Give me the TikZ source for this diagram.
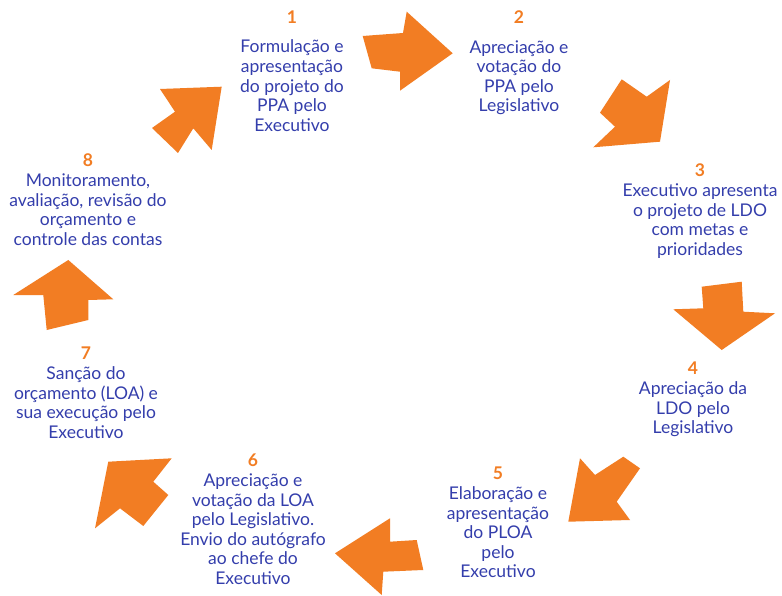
\documentclass[tikz,border=0pt]{standalone}
\usepackage{fontspec}
\setmainfont{Lato}
\definecolor{arroworange}{RGB}{242,125,35}
\definecolor{textblue}{RGB}{52,62,172}
\begin{document}
\begin{tikzpicture}[x=1pt,y=-1pt,
  itemtext/.style={anchor=north, inner sep=0pt, align=center, text=textblue,
    font=\fontsize{17.5}{19.6}\selectfont},
  blockarrow/.style={fill=arroworange, draw=none}]
\useasboundingbox (0,0) rectangle (782,596);
\fill[white] (0,0) rectangle (782,596);

% step texts
\node[itemtext] (s1) at (292,10.5) {\textcolor{arroworange}{\textbf{1}}\\[10pt]Formulação e\\apresentação\\do projeto do\\PPA pelo\\Executivo};
\node[itemtext] (s2) at (519,10.5) {\textcolor{arroworange}{\textbf{2}}\\[10pt]Apreciação e\\votação do\\PPA pelo\\Legislativo};
\node[itemtext] (s3) at (700,164) {\textcolor{arroworange}{\textbf{3}}\\Executivo apresenta\\o projeto de LDO\\com metas e\\prioridades};
\node[itemtext] (s4) at (693,362) {\textcolor{arroworange}{\textbf{4}}\\Apreciação da\\LDO pelo\\Legislativo};
\node[itemtext] (s5) at (498,467) {\textcolor{arroworange}{\textbf{5}}\\Elaboração e\\apresentação\\do PLOA\\pelo\\Executivo};
\node[itemtext] (s6) at (253,454) {\textcolor{arroworange}{\textbf{6}}\\Apreciação e\\votação da LOA\\pelo Legislativo.\\Envio do autógrafo\\ao chefe do\\Executivo};
\node[itemtext] (s7) at (86,347) {\textcolor{arroworange}{\textbf{7}}\\Sanção do\\orçamento (LOA) e\\sua execução pelo\\Executivo};
\node[itemtext] (s8) at (88,154) {\textcolor{arroworange}{\textbf{8}}\\Monitoramento,\\avaliação, revisão do\\orçamento e\\controle das contas};

% block arrows
\fill[blockarrow] (362.7,36) -- (403,33) -- (406.7,11.7) -- (452.7,53.3) -- (400,90.7) -- (400,71.7) -- (371.7,68.3) -- cycle;
\fill[blockarrow] (621.7,79.3) -- (646.7,96.7) -- (670,80) -- (660,141.7) -- (593.3,147.3) -- (615,126.7) -- (600,112.7) -- cycle;
\fill[blockarrow] (701.7,286.7) -- (741.7,281.7) -- (743.3,311.7) -- (775,313.3) -- (721.7,350) -- (673.3,309.3) -- (703.3,308.3) -- cycle;
\fill[blockarrow] (580,458.3) -- (595,475) -- (623.3,456.7) -- (640,468.3) -- (616.7,501.7) -- (630,520) -- (568.3,521.7) -- cycle;
\fill[blockarrow] (390,518.3) -- (390,541.7) -- (416.7,540) -- (423.3,570) -- (383.3,571.7) -- (381.7,595) -- (335,553.3) -- cycle;
\fill[blockarrow] (108.3,461.7) -- (171.7,458.3) -- (153.3,481.7) -- (168.3,495) -- (143.3,526) -- (120,508.3) -- (95,528.3) -- cycle;
\fill[blockarrow] (68.3,260) -- (113.3,299.3) -- (88.3,300) -- (88.3,320) -- (46.7,330) -- (43.3,295) -- (13.3,295) -- cycle;
\fill[blockarrow] (221.7,86.7) -- (211.7,150) -- (193.3,128.3) -- (178,153) -- (152,128) -- (175,111.7) -- (160,89) -- cycle;
\end{tikzpicture}
\end{document}
